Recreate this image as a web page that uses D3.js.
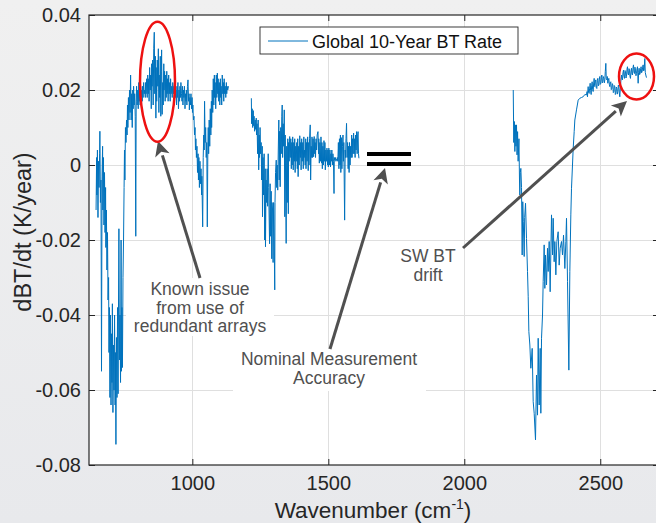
<!DOCTYPE html>
<html>
<head>
<meta charset="utf-8">
<script src="https://cdn.jsdelivr.net/npm/d3@7"></script>
<style>
  html, body { margin: 0; padding: 0; }
  body { width: 656px; height: 523px; overflow: hidden; }
  svg { display: block; font-family: "Liberation Sans", Arial, Helvetica, sans-serif; }
</style>
</head>
<body>
<svg id="chart" width="656" height="523"></svg>
<script>
// Global 10-year brightness-temperature rate, three spectral bands [wavenumber cm^-1, K/year]
const band1 = [
  [646,-0.012],[648,0.002],[649,-0.008],[651,0.004],[653,-0.014],[655,0.001],[657,-0.006],[659,0.003],
  [660,0.009],[662,-0.010],[664,-0.004],[666,-0.055],[668,-0.003],[670,0.005],[671,-0.012],[673,0.002],
  [675,-0.016],[677,-0.002],[679,-0.018],[681,-0.006],[682,-0.022],[684,-0.012],[686,-0.028],[688,-0.018],
  [690,-0.036],[692,-0.030],[693.5,-0.050],[695,-0.038],[697,-0.062],[699,-0.040],[701,-0.064],[703,-0.045],
  [704.5,-0.058],[706,-0.037],[708,-0.066],[710,-0.048],[712,-0.060],[714,-0.040],[716,-0.064],[717,-0.050],
  [719,-0.0745],[721,-0.046],[723,-0.062],[725,-0.038],[727,-0.061],[728,-0.044],[730,-0.017],[732,-0.052],
  [734,-0.040],[736,-0.058],[738,-0.020],[739.5,-0.055],[741,-0.038],[743,-0.054],[745,-0.030],[747,-0.020],
  [749,-0.006],[750.5,0.004],[752,-0.004],[754,0.010],[756,0.006],[758,0.012],[760,0.008],[761.5,0.016],
  [763,0.010],[765,0.018],[767,0.012],[769,0.020],[771,0.014],[773,0.024],[775,0.012],[777,0.019],
  [779,0.010],[781,0.020],[782.5,0.015],[784,0.021],[786,0.016],[788,0.019],[790,0.013],[792,-0.019],
  [793.5,0.017],[795,0.021],[797,0.016],[799,0.020],[801,0.015],[803,0.022],[804.5,0.017],[806,0.019],
  [808,0.016],[810,0.021],[812,0.018],[814,0.020],[816,0.017],[817,0.021],[819,0.018],[821,0.022],
  [823,0.019],[825,0.020],[827,0.018],[828,0.022],[830,0.019],[832,0.023],[834,0.018],[836,0.024],
  [838,0.019],[839.5,0.023],[841,0.017],[843,0.026],[845,0.020],[847,0.024],[849,0.015],[850.5,0.027],
  [852,0.021],[854,0.028],[856,0.016],[858,0.031],[860,0.0354],[862,0.019],[864,0.029],[866,0.0125],
  [867,0.026],[869,0.017],[871,0.028],[873,0.021],[875,0.031],[877,0.014],[878,0.024],[880,0.018],
  [882,0.029],[884,0.013],[886,0.025],[887,0.0307],[889,0.0135],[891,0.022],[893,0.016],[895,0.027],
  [896,0.020],[898,0.025],[900,0.017],[902,0.024],[904,0.018],[906,0.025],[907.5,0.019],[909,0.023],
  [911,0.017],[913,0.024],[915,0.019],[917,0.022],[918.5,0.017],[920,0.023],[922,0.019],[924,0.021],
  [926,0.018],[928,0.022],[931,0.019],[932.5,0.021],[934,0.017],[936,0.022],[938,0.018],[940,0.020],
  [942,0.016],[943.5,0.021],[945,0.018],[947,0.022],[949,0.015],[951,0.020],[953,0.017],[954.5,0.021],
  [956,0.018],[958,0.022],[960,0.019],[962,0.017],[964,0.021],[965.5,0.016],[967,0.020],[969,0.018],
  [971,0.021],[973,0.015],[975,0.019],[977,0.017],[978,0.020],[980,0.016],[982,0.021],[984,0.0227],
  [986,0.017],[988,0.019],[989,0.0147],[991,0.018],[993,0.016],[995,0.019],[997,0.015],[999,0.018],
  [1000.5,0.014],[1002,0.016],[1004,0.012],[1006,0.013],[1008,0.008],[1010,0.010],[1011.5,0.004],[1013,0.007],
  [1015,0.002],[1017,0.005],[1019,-0.002],[1021,0.003],[1022.5,-0.004],[1024,0.002],[1026,-0.006],[1028,0.001],
  [1030,-0.005],[1032,-0.001],[1034,-0.008],[1035,-0.003],[1038,-0.0165],[1040,0.002],[1042,0.008],[1043.5,0.004],
  [1045,0.017],[1047,0.006],[1049,0.010],[1051,0.002],[1053,0.006],[1055,-0.0165],[1057,0.004],[1058.5,0.010],
  [1060,0.003],[1062,0.012],[1064,0.005],[1066,0.015],[1068,0.008],[1070,0.017],[1071,0.010],[1073,0.020],
  [1075,0.014],[1077,0.023],[1079,0.016],[1081,0.024],[1082,0.018],[1084,0.022],[1086,0.015],[1088,0.024],
  [1090,0.018],[1092,0.0245],[1093.5,0.019],[1095,0.023],[1097,0.017],[1099,0.022],[1101,0.016],[1103,0.023],
  [1104.5,0.018],[1106,0.021],[1108,0.016],[1110,0.024],[1112,0.019],[1114,0.022],[1115.5,0.017],[1117,0.023],
  [1119,0.019],[1121,0.021],[1123,0.018],[1125,0.022],[1126.5,0.019],[1128,0.021],[1130,0.020],[1133,0.021]
];

const band2 = [
  [1217,0.0178],[1218,0.011],[1220,0.015],[1222,0.010],[1224,0.0145],[1225,0.0105],[1227,0.013],[1229,0.009],
  [1231,0.012],[1233,0.0095],[1235,0.0125],[1236,0.008],[1238,0.011],[1240,0.003],[1242,0.012],[1244,-0.0013],
  [1246,0.008],[1247,0.002],[1249,0.010],[1251,0.003],[1253,0.006],[1255,-0.004],[1257,0.005],[1258,-0.0138],
  [1260,0.002],[1262,-0.008],[1264,0.003],[1266,-0.020],[1268,-0.001],[1269,-0.0218],[1271,-0.004],[1273,-0.010],
  [1275,-0.001],[1277,-0.011],[1279,0.003],[1281,-0.006],[1282,-0.012],[1284,-0.021],[1286,-0.005],[1288,-0.019],
  [1290,-0.007],[1292,-0.025],[1293,-0.010],[1295,-0.012],[1297,-0.026],[1299,-0.010],[1301,-0.020],[1303,-0.0333],
  [1304,-0.010],[1306,-0.002],[1308.5,0.0013],[1310,-0.006],[1312,0.000],[1314,-0.0067],[1316,0.004],[1318,0.012],
  [1319.5,-0.004],[1321,0.009],[1323,-0.0058],[1325,0.010],[1327,0.003],[1329,0.013],[1330.5,0.016],[1332,0.002],
  [1334,0.011],[1336,0.005],[1338,0.0147],[1340,-0.0138],[1341.5,0.008],[1343,-0.004],[1345,-0.0209],[1347,0.005],
  [1349,-0.010],[1351,0.007],[1353,-0.013],[1354,0.006],[1356,0.001],[1358,0.0076],[1360,0.002],[1362,0.007],
  [1364,-0.001],[1365.5,0.006],[1367,0.000],[1369,0.0075],[1371,-0.0013],[1373,0.006],[1375,0.001],[1376.5,0.007],
  [1378,-0.002],[1380,0.005],[1382,0.001],[1384,0.006],[1386,-0.001],[1387.5,0.007],[1389,-0.0031],[1391,0.005],
  [1393,0.000],[1395,0.0078],[1397,0.002],[1398.5,0.006],[1400,-0.0013],[1402,0.007],[1404,0.001],[1406,0.006],
  [1408,-0.001],[1410,0.0075],[1411,0.002],[1413,0.004],[1415,0.000],[1417,0.007],[1418,-0.001],[1420,0.006],
  [1422,0.001],[1424,0.0075],[1426,-0.0015],[1428,0.006],[1429,0.000],[1431,0.007],[1433.5,0.0107],[1435,-0.004],
  [1437,0.005],[1439,0.002],[1440,0.0075],[1442,0.002],[1444,0.007],[1446,0.0022],[1448,0.0076],[1450,0.003],
  [1451.5,0.006],[1453,0.002],[1455,0.007],[1457,0.004],[1459,0.008],[1462,0.0089],[1464,0.003],[1465,0.007],
  [1467,0.0005],[1469,0.006],[1471,0.001],[1473,0.0075],[1475,0.0005],[1476.5,0.006],[1478,-0.001],[1480,0.005],
  [1482,0.000],[1484,0.0065],[1486,0.001],[1487.5,0.006],[1489,-0.0013],[1491,0.004],[1493,0.001],[1495,0.0045],
  [1497,0.000],[1498.5,0.004],[1500,-0.0005],[1502,0.0045],[1504,0.000],[1506,0.004],[1508,-0.0005],[1509.5,0.003],
  [1511,0.001],[1513,0.004],[1515,0.000],[1517,0.003],[1519,0.001],[1521,-0.0076],[1522,0.002],[1524,0.0013],
  [1526,0.002],[1528,0.001],[1530,0.0015],[1532,0.0013],[1533,0.002],[1535,0.001],[1537,0.006],[1539,-0.001],
  [1541,0.007],[1543,0.000],[1544.5,0.008],[1546,-0.002],[1548,0.0073],[1550,-0.001],[1552,0.005],[1554,0.008],
  [1555.5,0.001],[1557,0.006],[1560,-0.0147],[1562,0.004],[1563.5,0.002],[1565,0.007],[1567,0.0111],[1569,0.002],
  [1571,0.006],[1573,-0.001],[1574.5,0.005],[1576.5,-0.002],[1578,0.006],[1580,0.000],[1582,0.005],[1584,0.002],
  [1586,0.008],[1587.5,0.002],[1589,0.007],[1591,0.003],[1593,0.0085],[1595,0.003],[1597,0.007],[1598.5,0.002],
  [1600,0.008],[1602,0.004],[1604,0.0089],[1606,0.003],[1608,0.008],[1609.5,0.0089],[1611,0.003],[1612.5,0.0018]
];

const band3 = [
  [2180,0.0200],[2182,0.0060],[2184,0.0116],[2186,0.0036],[2188,0.0107],[2190,0.0050],[2192,0.0107],[2194,0.0027],
  [2196,0.0089],[2198,0.0010],[2201,0.0070],[2203,-0.0040],[2204.3,-0.0080],[2206,-0.0020],[2208,-0.0009],[2210.5,-0.0060],
  [2212.9,-0.0240],[2215,-0.0098],[2217,-0.0150],[2220.3,-0.0244],[2222,-0.0140],[2225.2,-0.0102],[2228.8,-0.0196],[2232.5,-0.0284],
  [2235,-0.0350],[2237.4,-0.0444],[2241.1,-0.0480],[2244.8,-0.0542],[2249.7,-0.0489],[2253.4,-0.0631],[2257,-0.0662],[2261.9,-0.0733],
  [2265.6,-0.0560],[2269.3,-0.0667],[2271.7,-0.0462],[2275.4,-0.0640],[2279.1,-0.0489],[2281.5,-0.0662],[2284,-0.0462],[2287.7,-0.0400],
  [2290.1,-0.0311],[2293.8,-0.0213],[2296.2,-0.0329],[2298.7,-0.0240],[2302.4,-0.0320],[2306,-0.0222],[2308.5,-0.0284],[2312.2,-0.0204],
  [2315.8,-0.0338],[2320.7,-0.0133],[2324.4,-0.0240],[2326.9,-0.0142],[2330.5,-0.0258],[2333,-0.0204],[2336.7,-0.0293],[2340.3,-0.0204],
  [2345.2,-0.0178],[2348.9,-0.0267],[2352.6,-0.0222],[2357.5,-0.0204],[2361.2,-0.0240],[2364.9,-0.0187],[2369.8,-0.0276],[2373.4,-0.0204],
  [2375.9,-0.0142],[2379.6,-0.0311],[2384.5,-0.0547],[2388.1,-0.0284],[2391.8,-0.0133],[2394.3,-0.0062],[2397.9,0.0000],[2400.4,0.0044],
  [2404.1,0.0089],[2406.5,0.0120],[2412.6,0.0147],[2418.8,0.0173],[2424.9,0.0178],[2431,0.0180],[2437.1,0.0182],[2443.3,0.0188],
  [2449.4,0.0187],[2451.5,0.0196],[2453,0.0182],[2455.5,0.0209],[2457,0.0194],[2459.2,0.0191],[2461,0.0205],[2462.9,0.0218],
  [2464.5,0.0199],[2466.5,0.0188],[2468.5,0.0213],[2470.2,0.0222],[2472,0.0201],[2473.9,0.0196],[2475.8,0.0219],[2477.6,0.0231],
  [2479,0.0212],[2480,0.0209],[2482,0.0224],[2483.7,0.0227],[2485.5,0.0206],[2487.4,0.0204],[2489,0.0226],[2491,0.0231],
  [2493,0.0211],[2494.7,0.0213],[2496.5,0.0229],[2498.4,0.0236],[2500,0.0215],[2502.1,0.0218],[2504,0.0233],[2505.8,0.0240],
  [2507.5,0.0219],[2509.4,0.0222],[2511,0.0236],[2513.1,0.0231],[2515,0.0219],[2516.8,0.0227],[2518.5,0.0249],[2520.5,0.0271],
  [2522,0.0231],[2524.1,0.0227],[2526,0.0236],[2527.8,0.0218],[2529.5,0.0226],[2531.5,0.0231],[2533.5,0.0214],[2535.2,0.0209],
  [2537,0.0219],[2538.8,0.0222],[2540.5,0.0201],[2542.5,0.0204],[2544.5,0.0217],[2546.2,0.0213],[2548,0.0193],[2549.9,0.0196],
  [2551.5,0.0212],[2553.5,0.0209],[2555.5,0.0188],[2557.2,0.0191],[2559,0.0208],[2560.9,0.0204],[2562.8,0.0189],[2564.6,0.0196],
  [2566.5,0.0213],[2568.3,0.0209],[2570,0.0192],[2571.9,0.0182],[2573.8,0.0205],[2575.6,0.0222],[2578.1,0.0240],[2580,0.0229],
  [2581.7,0.0227],[2583.5,0.0246],[2585.4,0.0253],[2587.2,0.0236],[2589.1,0.0231],[2591,0.0252],[2592.8,0.0249],[2594.6,0.0232],
  [2596.4,0.0236],[2598.2,0.0255],[2600.1,0.0262],[2602,0.0243],[2603.8,0.0240],[2605.7,0.0257],[2607.5,0.0253],[2609.3,0.0236],
  [2611.1,0.0231],[2613,0.0251],[2614.8,0.0258],[2616.7,0.0242],[2618.5,0.0240],[2620.3,0.0259],[2622.2,0.0267],[2624,0.0248],
  [2625.8,0.0244],[2627.6,0.0261],[2629.5,0.0253],[2631.3,0.0238],[2633.2,0.0244],[2635,0.0256],[2636.9,0.0262],[2639.3,0.0218],
  [2641,0.0247],[2643,0.0258],[2644.8,0.0241],[2646.7,0.0244],[2648.5,0.0257],[2650.3,0.0262],[2652,0.0246],[2654,0.0249],
  [2655.8,0.0261],[2657.7,0.0267],[2659.5,0.0251],[2661.4,0.0253],[2663.8,0.0284],[2665.5,0.0247],[2667.5,0.0240],[2669.9,0.0233]
];

const bands = [band1, band2, band3];
const xTicks = [1000, 1500, 2000, 2500];
const yTicks = [-0.08, -0.06, -0.04, -0.02, 0, 0.02, 0.04];
const yTickLabels = ["-0.08", "-0.06", "-0.04", "-0.02", "0", "0.02", "0.04"];
const seriesName = "Global 10-Year BT Rate";
const xDomain = [620, 2716];
const yDomain = [-0.08, 0.04];

const plot = { left: 89, top: 15, right: 659, bottom: 465 };
const axisColor = "#262626";
const lineColor = "#0072bd";
const noteColor = "#505050";

const svg = d3.select("#chart");

// page background
const defs = svg.append("defs");
const bg = defs.append("linearGradient").attr("id", "bg").attr("x1", 0).attr("y1", 0).attr("x2", 0).attr("y2", 1);
bg.append("stop").attr("offset", "0%").attr("stop-color", "#f0f0f0");
bg.append("stop").attr("offset", "100%").attr("stop-color", "#e8e9ec");
svg.append("rect").attr("width", 656).attr("height", 523).attr("fill", "url(#bg)");

defs.append("clipPath").attr("id", "plotClip").append("rect")
  .attr("x", plot.left).attr("y", plot.top)
  .attr("width", plot.right - plot.left).attr("height", plot.bottom - plot.top);

const x = d3.scaleLinear().domain(xDomain).range([plot.left, plot.right]);
const y = d3.scaleLinear().domain(yDomain).range([plot.bottom, plot.top]);

// plot area
svg.append("rect").attr("x", plot.left).attr("y", plot.top)
  .attr("width", plot.right - plot.left).attr("height", plot.bottom - plot.top)
  .attr("fill", "#ffffff");

// grid
const grid = svg.append("g").attr("stroke", "#dfdfdf").attr("stroke-width", 1);
grid.selectAll("line.gx").data(xTicks).join("line").attr("class", "gx")
  .attr("x1", d => Math.round(x(d)) + 0.5).attr("x2", d => Math.round(x(d)) + 0.5)
  .attr("y1", plot.top).attr("y2", plot.bottom);
grid.selectAll("line.gy").data(yTicks.slice(1, -1)).join("line").attr("class", "gy")
  .attr("y1", d => Math.round(y(d)) + 0.5).attr("y2", d => Math.round(y(d)) + 0.5)
  .attr("x1", plot.left).attr("x2", plot.right);

// data
const line = d3.line().x(d => x(d[0])).y(d => y(d[1]));
svg.append("g").attr("clip-path", "url(#plotClip)")
  .selectAll("path").data(bands).join("path")
  .attr("d", line).attr("fill", "none").attr("stroke", lineColor)
  .attr("stroke-width", 1).attr("stroke-linejoin", "round");

// axes: inward ticks on all four sides
const tickLen = 6;
const axG = svg.append("g");
const bottomAxis = d3.axisBottom(x).tickValues(xTicks).tickSize(-tickLen).tickPadding(11).tickFormat(d3.format("d"));
const topAxis = d3.axisTop(x).tickValues(xTicks).tickSize(-tickLen).tickFormat("");
const leftAxis = d3.axisLeft(y).tickValues(yTicks).tickSize(-tickLen).tickPadding(8).tickFormat((d, i) => yTickLabels[i]);
const rightAxis = d3.axisRight(y).tickValues(yTicks).tickSize(-tickLen).tickFormat("");

function styleAxis(g) {
  g.select(".domain").remove();
  g.selectAll(".tick line").attr("stroke", axisColor).attr("stroke-width", 1);
  g.selectAll(".tick text").attr("fill", axisColor).attr("font-size", 20)
    .attr("font-family", "'Liberation Sans', Arial, Helvetica, sans-serif");
}
axG.append("g").attr("transform", `translate(0,${plot.bottom})`).call(bottomAxis).call(styleAxis);
axG.append("g").attr("transform", `translate(0,${plot.top})`).call(topAxis).call(styleAxis);
axG.append("g").attr("transform", `translate(${plot.left},0)`).call(leftAxis).call(styleAxis);
axG.append("g").attr("transform", `translate(${plot.right},0)`).call(rightAxis).call(styleAxis);
axG.append("rect").attr("x", plot.left).attr("y", plot.top)
  .attr("width", plot.right - plot.left).attr("height", plot.bottom - plot.top)
  .attr("fill", "none").attr("stroke", axisColor).attr("stroke-width", 1.2);

// axis titles
const xTitle = svg.append("text").attr("x", 373).attr("y", 518).attr("text-anchor", "middle")
  .attr("font-size", 22.5).attr("fill", axisColor);
xTitle.append("tspan").text("Wavenumber (cm");
xTitle.append("tspan").attr("font-size", 14).attr("dy", -9).text("-1");
xTitle.append("tspan").attr("dy", 9).text(")");

svg.append("text").attr("transform", "translate(31,232) rotate(-90)").attr("text-anchor", "middle")
  .attr("font-size", 23.5).attr("fill", axisColor).text("dBT/dt (K/year)");

// legend
const lg = svg.append("g");
lg.append("rect").attr("x", 260).attr("y", 27).attr("width", 258).attr("height", 27)
  .attr("fill", "#ffffff").attr("stroke", axisColor).attr("stroke-width", 0.9);
lg.append("line").attr("x1", 268).attr("x2", 308).attr("y1", 41).attr("y2", 41)
  .attr("stroke", lineColor).attr("stroke-width", 1);
lg.append("text").attr("x", 312).attr("y", 47.5).attr("font-size", 18).attr("fill", "#111").text(seriesName);

// annotations
const notes = svg.append("g");
function noteBlock(lines, cx, firstBaseline, lh, box) {
  notes.append("rect").attr("x", box[0]).attr("y", box[1]).attr("width", box[2]).attr("height", box[3]).attr("fill", "#ffffff");
  lines.forEach((t, i) => {
    notes.append("text").attr("x", cx).attr("y", firstBaseline + i * lh).attr("text-anchor", "middle")
      .attr("font-size", 17.5).attr("fill", noteColor).text(t);
  });
}
noteBlock(["Known issue", "from use of", "redundant arrays"], 200, 295, 18.5, [126, 278, 148, 58]);
noteBlock(["Nominal Measurement", "Accuracy"], 329, 365, 19, [233, 349, 193, 42]);
noteBlock(["SW BT", "drift"], 428, 262, 18.5, [400, 246, 56, 40]);

function arrow(x0, y0, x1, y1) {
  const ang = Math.atan2(y1 - y0, x1 - x0);
  const hl = 15, hw = 7.5;
  const bx = x1 - hl * Math.cos(ang), by = y1 - hl * Math.sin(ang);
  notes.append("line").attr("x1", x0).attr("y1", y0).attr("x2", bx).attr("y2", by)
    .attr("stroke", noteColor).attr("stroke-width", 3);
  const px = -Math.sin(ang), py = Math.cos(ang);
  notes.append("polygon").attr("fill", noteColor)
    .attr("points", [[x1, y1], [bx + hw * px, by + hw * py], [bx + hl * 0.25 * Math.cos(ang), by + hl * 0.25 * Math.sin(ang)], [bx - hw * px, by - hw * py]].map(p => p.join(",")).join(" "));
}
arrow(200, 278, 158, 141);
arrow(330, 349, 385, 168);
arrow(463, 248, 627, 101);

// red highlight rings
svg.append("ellipse").attr("cx", 157.5).attr("cy", 81.7).attr("rx", 17.5).attr("ry", 60)
  .attr("fill", "none").attr("stroke", "#ee1111").attr("stroke-width", 2.5);
svg.append("ellipse").attr("cx", 636.5).attr("cy", 76.5).attr("rx", 17.5).attr("ry", 23)
  .attr("fill", "none").attr("stroke", "#ee1111").attr("stroke-width", 2.5);

// accuracy marker (double bar)
svg.append("rect").attr("x", 367).attr("y", 152).attr("width", 44).attr("height", 4).attr("fill", "#000");
svg.append("rect").attr("x", 367).attr("y", 162).attr("width", 44).attr("height", 4).attr("fill", "#000");
</script>
</body>
</html>
